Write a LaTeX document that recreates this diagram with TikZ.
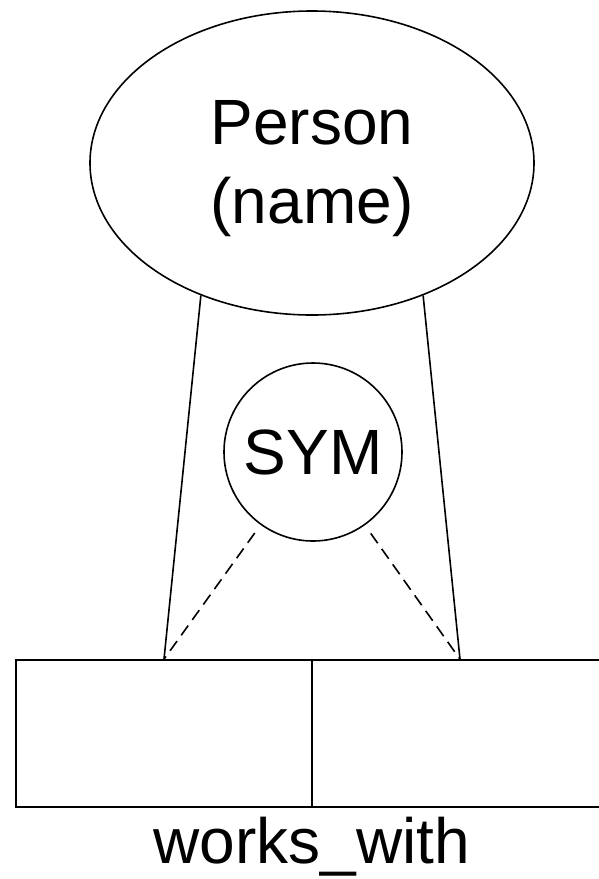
\documentclass[tikz,border=0pt]{standalone}
\usepackage{fontspec}
\setmainfont{Liberation Sans}
\usepackage{tikz}
\usetikzlibrary{shapes.geometric}

\begin{document}
\begin{tikzpicture}[x=1pt,y=-1pt]
\tikzset{
  bigText/.style={
    font=\fontsize{64}{79}\selectfont
    },
  entityNode/.style={
    ellipse,
                   draw,
                   line width=1.6pt,
                   inner sep=0pt,
                   minimum width=444pt,
                   minimum height=304pt
    },
  symNode/.style={
    circle,
                   draw,
                   line width=1.6pt,
                   inner sep=0pt,
                   minimum size=178pt,
                   bigText
    },
  roleNode/.style={
    rectangle,
                   draw,
                   line width=1.6pt,
                   inner sep=0pt,
                   minimum width=296pt,
                   minimum height=147pt
    }
}
    \useasboundingbox (0,0) rectangle (598,879);

    \node (P)[entityNode, label={[bigText, align=center, yshift=-6pt]center:Person\\(name)}] at (312,163) {};
    \node (S)[symNode] at (313,452) {SYM};
    \node (L)[roleNode] at (164,733.5) {};
    \node (R)[roleNode] at (460,733.5) {};
    \node (W)[bigText] at (312,847) {works\_with};

    \draw[line width=1.6pt] (P.230) -- (L.north);
    \draw[line width=1.6pt] (P.310.5) -- (R.north);
    \draw[dashed, line width=1.6pt, dash pattern=on 12pt off 7pt, shorten <=10pt] (S) -- (L.north);
    \draw[dashed, line width=1.6pt, dash pattern=on 12pt off 7pt, shorten <=10pt] (S) -- (R.north);

\end{tikzpicture}
\end{document}
